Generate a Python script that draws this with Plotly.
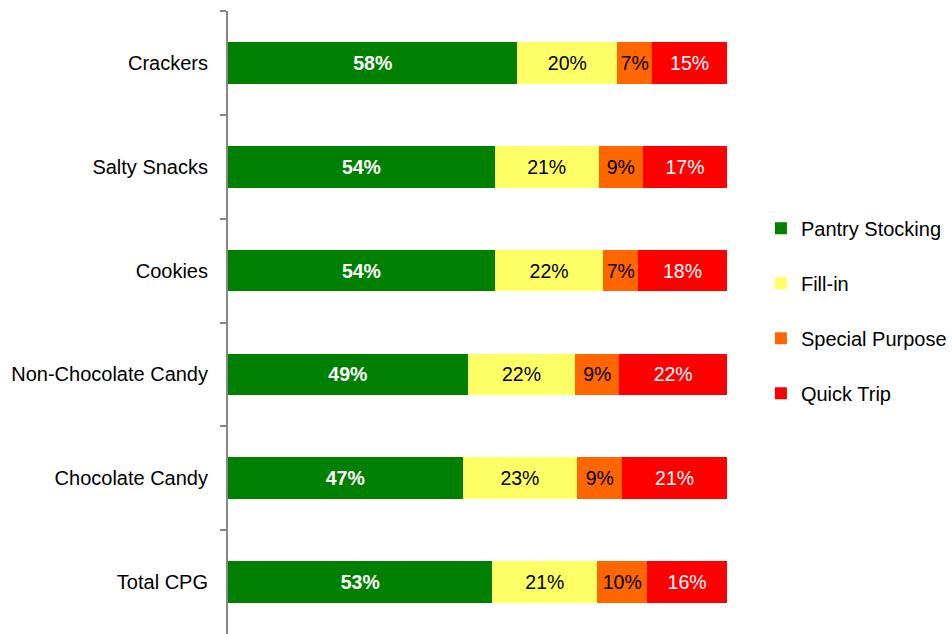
import plotly.graph_objects as go

categories = ["Crackers", "Salty Snacks", "Cookies", "Non-Chocolate Candy", "Chocolate Candy", "Total CPG"]
pantry = [58, 54, 54, 49, 47, 53]
fillin = [20, 21, 22, 22, 23, 21]
special = [7, 9, 7, 9, 9, 10]
quick = [15, 17, 18, 22, 21, 16]

series = [
    ("Pantry Stocking", pantry, "#008000", "white", "bold"),
    ("Fill-in", fillin, "#FFFF66", "black", "normal"),
    ("Special Purpose", special, "#FF6600", "black", "normal"),
    ("Quick Trip", quick, "#FF0000", "white", "normal"),
]

FONT = "Liberation Sans, Arial, sans-serif"
fig = go.Figure()
for i, (name, vals, color, tcolor, weight) in enumerate(series):
    fig.add_trace(go.Bar(
        y=categories, x=vals, name=name, orientation="h",
        marker=dict(color=color, line=dict(width=0)),
        text=[f"{v}%" for v in vals], textposition="inside",
        insidetextanchor="middle", textangle=0, constraintext="none",
        textfont=dict(color=tcolor, size=19.5, family=FONT, weight=weight),
        legendgroup=f"g{i}", width=0.4,
        hoverinfo="skip",
    ))

fig.update_layout(
    barmode="stack", barnorm="percent",
    width=952, height=634,
    margin=dict(l=228, r=222, t=11, b=0, pad=0),
    paper_bgcolor="white", plot_bgcolor="white",
    font=dict(family=FONT, size=20, color="black"),
    showlegend=True,
    legend=dict(x=1.068, y=0.519, xanchor="left", yanchor="middle",
                traceorder="grouped", tracegroupgap=26,
                font=dict(size=20, family=FONT, color="black"),
                bgcolor="rgba(0,0,0,0)"),
    xaxis=dict(range=[0, 100], visible=False, fixedrange=True),
    yaxis=dict(type="category", autorange="reversed", tickson="boundaries",
               showline=True, linecolor="#868686", linewidth=2,
               ticks="outside", ticklen=6, tickcolor="#868686", tickwidth=2,
               ticklabelstandoff=14, showgrid=False, zeroline=False,
               tickfont=dict(size=20, family=FONT, color="black")),
)

fig.write_html("out.html")
